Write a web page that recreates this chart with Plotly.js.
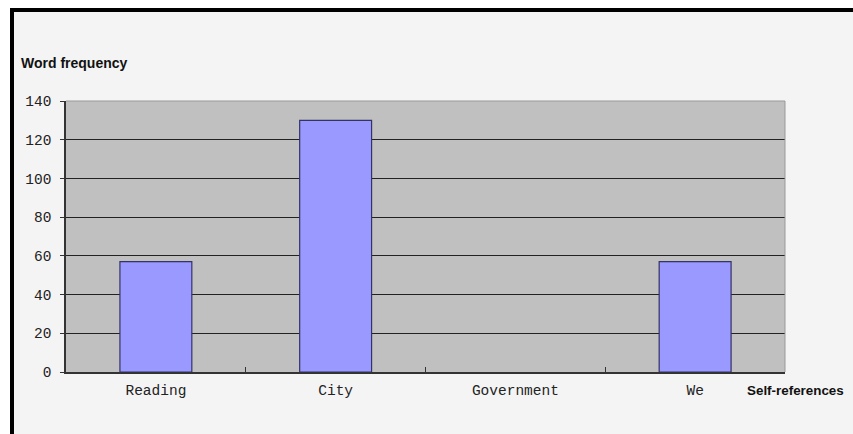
<!DOCTYPE html>
<html>
<head>
<meta charset="utf-8">
<script src="https://cdn.plot.ly/plotly-3.0.1.min.js"></script>
<style>
  html, body { margin: 0; padding: 0; background: #ffffff; width: 853px; height: 434px; overflow: hidden; }
  #frame { position: absolute; left: 10px; top: 8px; width: 839px; height: 426px;
           border-top: 4px solid #000; border-left: 4px solid #000; background: #f4f4f4; }
  #chart { width: 839px; height: 422px; }
</style>
</head>
<body>
<div id="frame"><div id="chart"></div></div>
<script>
const categories = ["Reading", "City", "Government", "We"];
const frequencies = [57, 130, 0, 57];
const yTickValues = [0, 20, 40, 60, 80, 100, 120, 140];

const monoFont = { family: "Liberation Mono, DejaVu Sans Mono, monospace", size: 14.5, color: "#222" };
const boldFont = { family: "Liberation Sans, Arial, sans-serif", size: 14, color: "#111" };
const boldFontSmall = { family: "Liberation Sans, Arial, sans-serif", size: 13.4, color: "#111" };

const trace = {
  type: "bar",
  x: categories,
  y: frequencies,
  marker: {
    color: "#9999ff",
    line: { color: "#333366", width: frequencies.map(v => (v === 0 ? 0 : 1.2)) }
  },
  hoverinfo: "x+y"
};

const layout = {
  width: 839,
  height: 422,
  margin: { l: 52, r: 68, t: 89, b: 62 },
  paper_bgcolor: "#f4f4f4",
  plot_bgcolor: "#c0c0c0",
  bargap: 0.6,
  showlegend: false,
  xaxis: {
    type: "category",
    tickson: "boundaries",
    ticks: "inside",
    ticklen: 5,
    tickcolor: "#333",
    showline: true,
    linecolor: "#333",
    linewidth: 1.5,
    showgrid: false,
    tickfont: monoFont,
    ticklabelstandoff: 4,
    fixedrange: true
  },
  yaxis: {
    range: [0, 140],
    tickvals: yTickValues,
    ticks: "outside",
    ticklen: 4,
    tickcolor: "#333",
    showline: true,
    linecolor: "#333",
    linewidth: 1.5,
    showgrid: true,
    gridcolor: "#222",
    gridwidth: 1,
    zeroline: false,
    tickfont: monoFont,
    ticklabelstandoff: 6,
    fixedrange: true
  },
  shapes: [
    { type: "line", xref: "paper", yref: "paper", x0: 0, x1: 1, y0: 1, y1: 1,
      line: { color: "#999", width: 1 } },
    { type: "line", xref: "paper", yref: "paper", x0: 1, x1: 1, y0: 0, y1: 1,
      line: { color: "#999", width: 1 } }
  ],
  annotations: [
    { text: "<b>Word frequency</b>", xref: "paper", yref: "paper", x: -0.066, y: 1.14,
      xanchor: "left", yanchor: "middle", showarrow: false, font: boldFont },
    { text: "<b>Self-references</b>", xref: "paper", yref: "paper", x: 0.945, y: -0.068,
      xanchor: "left", yanchor: "middle", showarrow: false, font: boldFontSmall }
  ]
};

Plotly.newPlot("chart", [trace], layout, { displayModeBar: false });
</script>
</body>
</html>
